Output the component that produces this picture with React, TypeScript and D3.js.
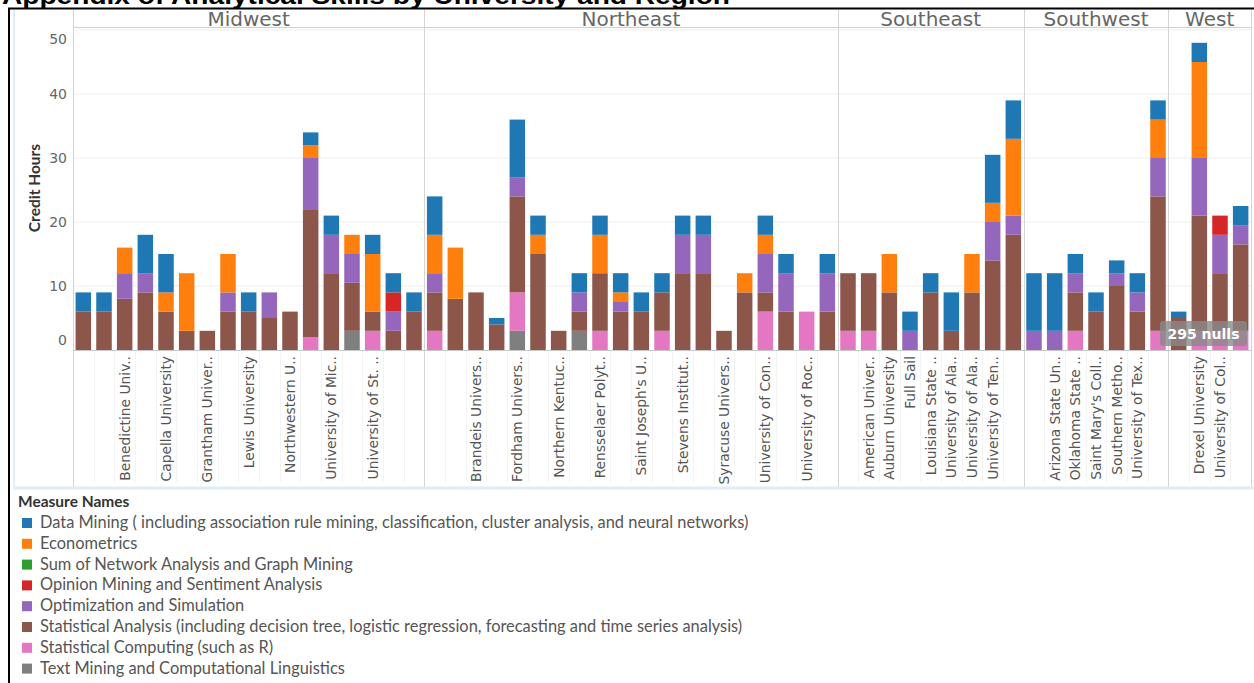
import React, { useEffect, useRef } from "react";
import * as d3 from "d3";

const regions = ["Midwest", "Northeast", "Southeast", "Southwest", "West"];

// x labels per bar, "" where the label is hidden in the original
const midwestLabels = ["", "", "Benedictine Univ..", "", "Capella University", "", "Grantham Univer..", "", "Lewis University", "", "Northwestern U..", "", "University of Mic..", "", "University of St. ..", "", ""];
const northeastLabels = ["", "", "Brandeis Univers..", "", "Fordham Univers..", "", "Northern Kentuc..", "", "Rensselaer Polyt..", "", "Saint Joseph's U..", "", "Stevens Institut..", "", "Syracuse Univers..", "", "University of Con..", "", "University of Roc..", ""];
const southeastLabels = ["", "American Univer..", "Auburn University", "Full Sail", "Louisiana State ..", "University of Ala..", "University of Ala..", "University of Ten..", ""];
const southwestLabels = ["", "Arizona State Un..", "Oklahoma State ..", "Saint Mary's Coll..", "Southern Metho..", "University of Tex..", ""];
const westLabels = ["", "Drexel University", "University of Col..", ""];

const measures = [
  "Data Mining ( including association rule mining, classification, cluster analysis, and neural networks)",
  "Econometrics",
  "Sum of Network Analysis and Graph Mining",
  "Opinion Mining and Sentiment Analysis",
  "Optimization and Simulation",
  "Statistical Analysis (including decision tree, logistic regression, forecasting and time series analysis)",
  "Statistical Computing (such as R)",
  "Text Mining and Computational Linguistics",
];
const colors = ["#1f77b4", "#ff7f0e", "#2ca02c", "#d62728", "#9467bd", "#8c564b", "#e377c2", "#7f7f7f"];

// credit hours per bar: Midwest | Northeast | Southeast | Southwest | West
const dataMining = [
  3, 3, 0, 6, 6, 0, 0, 0, 3, 0, 0, 2, 3, 0, 3, 3, 3,
  6, 0, 0, 1, 9, 3, 0, 3, 3, 3, 3, 3, 3, 3, 0, 0, 3, 3, 0, 3,
  0, 0, 0, 3, 3, 6, 0, 7.5, 6,
  9, 9, 3, 3, 2, 3, 3,
  1, 3, 0, 3,
];
const econometrics = [
  0, 0, 4, 0, 3, 9, 0, 6, 0, 0, 0, 2, 0, 3, 9, 0, 0,
  6, 8, 0, 0, 0, 3, 0, 0, 6, 1.5, 0, 0, 0, 0, 0, 3, 3, 0, 0, 0,
  0, 0, 6, 0, 0, 0, 6, 3, 12,
  0, 0, 0, 0, 0, 0, 6,
  0, 15, 0, 0,
];
const networkAnalysis = [
  0, 0, 0, 0, 0, 0, 0, 0, 0, 0, 0, 0, 0, 0, 0, 0, 0,
  0, 0, 0, 0, 0, 0, 0, 0, 0, 0, 0, 0, 0, 0, 0, 0, 0, 0, 0, 0,
  0, 0, 0, 0, 0, 0, 0, 0, 0,
  0, 0, 0, 0, 0, 0, 0,
  0, 0, 0, 0,
];
const opinionMining = [
  0, 0, 0, 0, 0, 0, 0, 0, 0, 0, 0, 0, 0, 0, 0, 3, 0,
  0, 0, 0, 0, 0, 0, 0, 0, 0, 0, 0, 0, 0, 0, 0, 0, 0, 0, 0, 0,
  0, 0, 0, 0, 0, 0, 0, 0, 0,
  0, 0, 0, 0, 0, 0, 0,
  0, 0, 3, 0,
];
const optimization = [
  0, 0, 4, 3, 0, 0, 0, 3, 0, 4, 0, 8, 6, 4.5, 0, 3, 0,
  3, 0, 0, 0, 3, 0, 0, 3, 0, 1.5, 0, 0, 6, 6, 0, 0, 6, 6, 0, 6,
  0, 0, 0, 3, 0, 0, 0, 6, 3,
  3, 3, 3, 0, 2, 3, 6,
  0, 9, 6, 3,
];
const statAnalysis = [
  6, 6, 8, 9, 6, 3, 3, 6, 6, 5, 6, 20, 12, 7.5, 3, 3, 6,
  6, 8, 9, 4, 15, 15, 3, 3, 9, 6, 6, 6, 12, 12, 3, 9, 3, 6, 0, 6,
  9, 9, 9, 0, 9, 3, 9, 14, 18,
  0, 0, 6, 6, 10, 6, 21,
  5, 18, 9, 13.5,
];
const statComputing = [
  0, 0, 0, 0, 0, 0, 0, 0, 0, 0, 0, 2, 0, 0, 3, 0, 0,
  3, 0, 0, 0, 6, 0, 0, 0, 3, 0, 0, 3, 0, 0, 0, 0, 6, 0, 6, 0,
  3, 3, 0, 0, 0, 0, 0, 0, 0,
  0, 0, 3, 0, 0, 0, 3,
  0, 3, 3, 3,
];
const textMining = [
  0, 0, 0, 0, 0, 0, 0, 0, 0, 0, 0, 0, 0, 3, 0, 0, 0,
  0, 0, 0, 0, 3, 0, 0, 3, 0, 0, 0, 0, 0, 0, 0, 0, 0, 0, 0, 0,
  0, 0, 0, 0, 0, 0, 0, 0, 0,
  0, 0, 0, 0, 0, 0, 0,
  0, 0, 0, 0,
];

const yTicks = [0, 10, 20, 30, 40, 50];

const App = () => {
  const svgRef: any = useRef();

  useEffect(() => {
    const svg = d3.select(svgRef.current);
    svg.selectAll("*").remove();

    const width = 1254;
    const marginLeft = 73;
    const marginRight = 1251;
    const plotTop = 30;
    const plotBottom = 350;
    const labelBottom = 487;
    const font = "Lato, 'Open Sans', sans-serif";
    const headFont = "'DejaVu Sans', sans-serif";

    const regionLabels = [midwestLabels, northeastLabels, southeastLabels, southwestLabels, westLabels];
    const seriesValues = [dataMining, econometrics, networkAnalysis, opinionMining, optimization, statAnalysis, statComputing, textMining];

    const bars = regionLabels.flatMap((labels, r) =>
      labels.map((label, i) => ({ id: `${r}-${i}`, region: r, label }))
    );
    const rows = bars.map((b, i) => {
      const row: any = { id: b.id };
      measures.forEach((m, k) => (row[m] = seriesValues[k][i]));
      return row;
    });

    const xScale = d3
      .scaleBand()
      .domain(bars.map((b) => b.id))
      .range([marginLeft, marginRight])
      .paddingInner(0.25)
      .paddingOuter(0.125);
    const step = xScale.step();

    const yScale = d3.scaleLinear().domain([0, 50]).range([plotBottom, plotTop]);

    const stacked = d3.stack().keys([...measures].reverse())(rows);

    svg.append("rect").attr("width", width).attr("height", 683).attr("fill", "#fff");

    // gridlines
    yTicks.slice(1).forEach((t) => {
      svg
        .append("line")
        .attr("x1", marginLeft)
        .attr("x2", marginRight)
        .attr("y1", yScale(t))
        .attr("y2", yScale(t))
        .attr("stroke", "#efefef")
        .attr("stroke-width", 1);
    });

    // faint lines between bars in the label area
    bars.forEach((_, i) => {
      const x = Math.round(marginLeft + step * i) + 0.5;
      svg
        .append("line")
        .attr("x1", x)
        .attr("x2", x)
        .attr("y1", plotBottom)
        .attr("y2", labelBottom - 5)
        .attr("stroke", "#f3f3f3");
    });

    // header row
    svg
      .append("line")
      .attr("x1", marginLeft)
      .attr("x2", marginRight)
      .attr("y1", 27.5)
      .attr("y2", 27.5)
      .attr("stroke", "#d0d0d0");

    const starts: number[] = [];
    let acc = 0;
    regionLabels.forEach((labels) => {
      starts.push(acc);
      acc += labels.length;
    });
    starts.push(acc);

    starts.forEach((s) => {
      const x = Math.round(marginLeft + step * s) + 0.5;
      svg
        .append("line")
        .attr("x1", x)
        .attr("x2", x)
        .attr("y1", 9)
        .attr("y2", labelBottom)
        .attr("stroke", "#d4d4d4");
    });

    regions.forEach((r, i) => {
      const cx = marginLeft + step * (starts[i] + starts[i + 1]) / 2;
      svg
        .append("text")
        .attr("x", cx)
        .attr("y", 26)
        .attr("text-anchor", "middle")
        .attr("font-family", headFont)
        .attr("font-size", "20px")
        .attr("fill", "#666")
        .text(r);
    });

    // bars
    stacked.forEach((layer) => {
      const color = colors[measures.indexOf(layer.key)];
      svg
        .append("g")
        .selectAll("rect")
        .data(layer.filter((d) => d[1] - d[0] > 0))
        .join("rect")
        .attr("x", (d: any) => xScale(d.data.id) as number)
        .attr("width", xScale.bandwidth())
        .attr("y", (d) => yScale(d[1]))
        .attr("height", (d) => yScale(d[0]) - yScale(d[1]))
        .attr("fill", color);
    });

    // zero line
    svg
      .append("line")
      .attr("x1", marginLeft)
      .attr("x2", marginRight)
      .attr("y1", plotBottom + 0.5)
      .attr("y2", plotBottom + 0.5)
      .attr("stroke", "#c8c8c8");

    // x labels
    bars.forEach((b) => {
      if (!b.label) return;
      const cx = (xScale(b.id) as number) + xScale.bandwidth() / 2;
      svg
        .append("text")
        .attr("transform", `translate(${cx + 5},${plotBottom + 6}) rotate(-90)`)
        .attr("text-anchor", "end")
        .attr("font-family", headFont)
        .attr("font-size", "13.8px")
        .attr("fill", "#555")
        .text(b.label);
    });

    // y axis
    yTicks.forEach((t) => {
      const y = Math.min(Math.max(yScale(t) + 5, 44), 345);
      svg
        .append("text")
        .attr("x", 67)
        .attr("y", y)
        .attr("text-anchor", "end")
        .attr("font-family", headFont)
        .attr("font-size", "14px")
        .attr("fill", "#666")
        .text(t);
    });

    svg
      .append("text")
      .attr("transform", "translate(40,188) rotate(-90)")
      .attr("text-anchor", "middle")
      .attr("font-family", font)
      .attr("font-weight", "bold")
      .attr("font-size", "15.5px")
      .attr("fill", "#333")
      .text("Credit Hours");

    // title (cut off at the top)
    svg
      .append("text")
      .attr("x", 2)
      .attr("y", 4)
      .attr("font-family", "'Liberation Sans', Arial, sans-serif")
      .attr("font-weight", "bold")
      .attr("font-size", "24px")
      .attr("textLength", 728)
      .attr("lengthAdjust", "spacingAndGlyphs")
      .attr("fill", "#000")
      .text("Appendix of Analytical Skills by University and Region");

    // frame
    svg.append("line").attr("x1", 8).attr("x2", width).attr("y1", 8.5).attr("y2", 8.5).attr("stroke", "#000").attr("stroke-width", 2);
    svg.append("line").attr("x1", 9).attr("x2", 9).attr("y1", 8).attr("y2", 683).attr("stroke", "#000").attr("stroke-width", 2);
    svg.append("line").attr("x1", 14).attr("x2", 14).attr("y1", 10).attr("y2", labelBottom).attr("stroke", "#deedf8").attr("stroke-width", 2);
    svg.append("line").attr("x1", 13).attr("x2", width).attr("y1", labelBottom + 1).attr("y2", labelBottom + 1).attr("stroke", "#deedf8").attr("stroke-width", 3);

    // nulls badge
    svg
      .append("rect")
      .attr("x", 1160)
      .attr("y", 321)
      .attr("width", 87)
      .attr("height", 25)
      .attr("rx", 3)
      .attr("fill", "#8a8a8a")
      .attr("opacity", 0.8);
    svg
      .append("text")
      .attr("x", 1203.5)
      .attr("y", 339)
      .attr("text-anchor", "middle")
      .attr("font-family", headFont)
      .attr("font-weight", "bold")
      .attr("font-size", "14px")
      .attr("fill", "#fff")
      .text("295 nulls");

    // legend
    svg
      .append("text")
      .attr("x", 18)
      .attr("y", 507)
      .attr("font-family", font)
      .attr("font-weight", "bold")
      .attr("font-size", "15.5px")
      .attr("fill", "#333")
      .text("Measure Names");

    measures.forEach((m, i) => {
      const y = 518 + i * 20.8;
      svg.append("rect").attr("x", 22).attr("y", y).attr("width", 10).attr("height", 10).attr("fill", colors[i]);
      svg
        .append("text")
        .attr("x", 40)
        .attr("y", y + 10)
        .attr("font-family", font)
        .attr("font-size", "16.4px")
        .attr("fill", "#555")
        .text(m);
    });
  }, []);

  return (
    <svg
      ref={svgRef}
      width={1254}
      height={683}
      style={{ position: "absolute", left: 0, top: 0 }}
    />
  );
};

export default App;
